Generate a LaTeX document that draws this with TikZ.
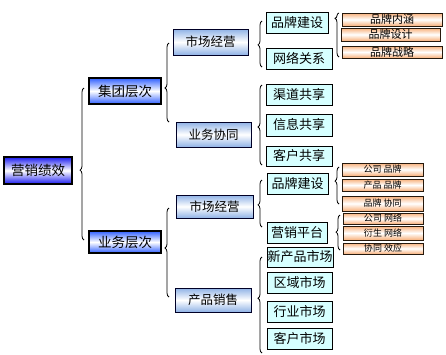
\documentclass[tikz,border=0pt]{standalone}
\usepackage{fontspec}
\setmainfont{Noto Sans CJK SC}
\usetikzlibrary{decorations.pathreplacing}
\definecolor{rootblue}{HTML}{1A1AF0}
\definecolor{grpblue}{HTML}{3060FF}
\definecolor{midblue}{HTML}{8FB2E6}
\definecolor{leafcyan}{HTML}{D6FFFF}
\definecolor{peach}{HTML}{F8B07A}
\begin{document}
\begin{tikzpicture}[x=1pt,y=-1pt,
  box/.style={draw=black, line width=0.8pt, inner sep=0pt, anchor=center},
  lvzero/.style={box, line width=1.3pt, top color=rootblue, bottom color=rootblue, middle color=white,
     font=\fontsize{13.5}{14}\selectfont},
  lvone/.style={box, line width=1.1pt, top color=grpblue, bottom color=grpblue, middle color=white,
     font=\fontsize{13.5}{14}\selectfont},
  lvtwo/.style={box, draw=black!85!blue, top color=midblue, bottom color=midblue, middle color=white,
     font=\fontsize{12.5}{13}\selectfont},
  lvthree/.style={box, fill=leafcyan, font=\fontsize{13}{14}\selectfont},
  lvfour/.style={box, line width=0.7pt, draw=black!80!brown, top color=peach, bottom color=peach, middle color=white,
     font=\fontsize{11}{12}\selectfont},
  lvfive/.style={lvfour, font=\fontsize{9}{10}\selectfont},
  brc/.style={draw=black, line width=0.8pt, decorate, decoration={brace, amplitude=4pt, aspect=#1}},
]
\useasboundingbox (0,0) rectangle (446,354);

% root and level 1
\node[lvzero, minimum width=68pt, minimum height=27pt] (root) at (38,170.5) {营销绩效};
\node[lvone, minimum width=72pt, minimum height=26pt] (g1) at (125,91) {集团层次};
\node[lvone, minimum width=72pt, minimum height=22pt] (g2) at (125,242) {业务层次};

% level 2
\node[lvtwo, minimum width=75pt, minimum height=26pt] (a1) at (210.5,42) {市场经营};
\node[lvtwo, minimum width=75pt, minimum height=25pt] (a2) at (213.5,134.5) {业务协同};
\node[lvtwo, minimum width=77pt, minimum height=23pt] (b1) at (214.5,206.5) {市场经营};
\node[lvtwo, minimum width=76pt, minimum height=24pt] (b2) at (213,300) {产品销售};

% level 3
\node[lvthree, minimum width=62pt, minimum height=21pt] (c1) at (297,22.5) {品牌建设};
\node[lvthree, minimum width=66pt, minimum height=21pt] (c2) at (299,58.5) {网络关系};
\node[lvthree, minimum width=66pt, minimum height=21pt] (c3) at (299,94.5) {渠道共享};
\node[lvthree, minimum width=66pt, minimum height=22pt] (c4) at (299,125) {信息共享};
\node[lvthree, minimum width=66pt, minimum height=20pt] (c5) at (299,156) {客户共享};
\node[lvthree, minimum width=61pt, minimum height=21pt] (d1) at (297.5,183.5) {品牌建设};
\node[lvthree, minimum width=60pt, minimum height=21pt] (d2) at (297,232.5) {营销平台};
\node[lvthree, minimum width=66pt, minimum height=20pt] (d3) at (300,257) {新产品市场};
\node[lvthree, minimum width=65pt, minimum height=21pt] (d4) at (299.5,282.5) {区域市场};
\node[lvthree, minimum width=65pt, minimum height=21pt] (d5) at (299.5,311.5) {行业市场};
\node[lvthree, minimum width=65pt, minimum height=21pt] (d6) at (299.5,338.5) {客户市场};

% level 4
\node[lvfour, minimum width=100pt, minimum height=13pt] (e1) at (392,19.5) {品牌内涵};
\node[lvfour, minimum width=99pt, minimum height=13pt] (e2) at (390.5,34.5) {品牌设计};
\node[lvfour, minimum width=100pt, minimum height=12pt] (e3) at (392,52) {品牌战略};
\node[lvfive, minimum width=81pt, minimum height=13pt] (f1) at (382.5,169.5) {公司 品牌};
\node[lvfive, minimum width=81pt, minimum height=12pt] (f2) at (382.5,185) {产品 品牌};
\node[lvfive, minimum width=81pt, minimum height=15pt] (f3) at (382.5,203.5) {品牌 协同};
\node[lvfive, minimum width=80pt, minimum height=11pt] (f4) at (383,218.5) {公司 网络};
\node[lvfive, minimum width=80pt, minimum height=14pt] (f5) at (383,233) {衍生 网络};
\node[lvfive, minimum width=80pt, minimum height=11pt] (f6) at (383,248.5) {协同 效应};

% brace end points
\coordinate (Ab) at (84,240);  \coordinate (At) at (84,88);
\coordinate (Bb) at (169,122); \coordinate (Bt) at (169,43);
\coordinate (Cb) at (262,67);  \coordinate (Ct) at (262,21);
\coordinate (Db) at (262,165); \coordinate (Dt) at (262,85);
\coordinate (Eb) at (339,57);  \coordinate (Et) at (339,13);
\coordinate (Fb) at (169,297); \coordinate (Ft) at (169,208);
\coordinate (Gb) at (262,227); \coordinate (Gt) at (262,180);
\coordinate (Hb) at (262,353); \coordinate (Ht) at (262,257);
\coordinate (Ib) at (339,204); \coordinate (It) at (339,167);
\coordinate (Jb) at (340,250); \coordinate (Jt) at (340,215);

% braces
\draw[brc=0.46] (Ab) -- (At);
\draw[brc=0.43] (Bb) -- (Bt);
\draw[brc=0.48] (Cb) -- (Ct);
\draw[brc=0.475] (Db) -- (Dt);
\draw[brc=0.88] (Eb) -- (Et);
\draw[brc=0.55] (Fb) -- (Ft);
\draw[brc=0.47] (Gb) -- (Gt);
\draw[brc=0.57] (Hb) -- (Ht);
\draw[brc=0.62] (Ib) -- (It);
\draw[brc=0.51] (Jb) -- (Jt);
\end{tikzpicture}
\end{document}
